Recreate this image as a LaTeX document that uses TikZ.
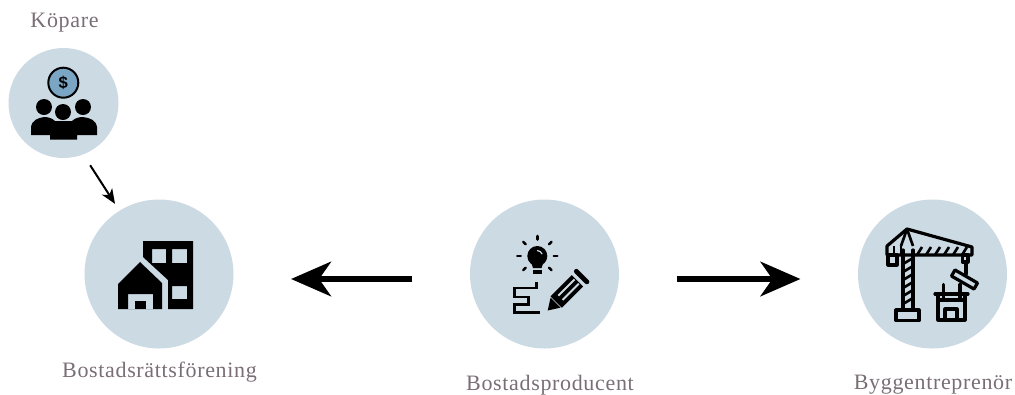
\documentclass[tikz,border=0pt]{standalone}
\usepackage{fontspec}
\setmainfont[LetterSpace=3]{Liberation Serif}
\newfontfamily\dollarfont{Liberation Sans}
\usetikzlibrary{arrows.meta,positioning}
\definecolor{myblue}{RGB}{204, 218, 228} % pale disc
\definecolor{mycoin}{RGB}{122, 166, 196} % coin
\definecolor{mytext}{RGB}{122, 110, 118} % labels
\tikzset{
    disc/.style={circle, fill=myblue, inner sep=0pt, minimum size=149*0.75pt},
    label/.style={text=mytext, font=\fontsize{16.5}{18}\selectfont, inner sep=0pt},
    bigarrow/.style={line width=3.9pt, -{Stealth[length=30pt,width=26pt,inset=9pt]}, shorten >=43pt, shorten <=43pt},
    smallarrow/.style={line width=1.5pt, -{Stealth[length=11pt,width=9pt,inset=3pt]}},
    icon/.style={line width=2.4pt, line cap=round, line join=round},
    thinicon/.style={line width=2pt, line join=round}
}
\begin{document}
\begin{tikzpicture}[x=0.75pt, y=-0.75pt]
    \useasboundingbox (0,0) rectangle (1015,394);

    % Discs
    \node[disc, minimum size=110*0.75pt] (koepare) at (63.5,103) {};
    \node[disc] (forening) at (159,274) {};
    \node[disc] (producent) at (544.5,274) {};
    \node[disc] (bygg) at (932.5,274) {};

    % Labels
    \node[label] (koeparetext) at (64.5,22.5) {Köpare};
    \node[label] (foreningtext) at (159.5,372) {Bostadsrättsförening};
    \node[label] (producenttext) at (550,385) {Bostadsproducent};
    \node[label] (byggtext) at (933,385) {Byggentreprenör};

    % Arrows
    \draw[smallarrow, shorten <=9.5pt, shorten >=6pt] (koepare.-69) -- (forening.122);
    \draw[bigarrow] ([yshift=-3.75pt]producent.west) -- ([yshift=-3.75pt]forening.east);
    \draw[bigarrow] ([yshift=-3.75pt]producent.east) -- ([yshift=-3.75pt]bygg.west);

    % Buyers icon
    \filldraw[fill=mycoin, draw=black, line width=1.5pt] (63.3,82.7) circle (15);
    \node[font=\dollarfont\bfseries\fontsize{12.5}{12.5}\selectfont, inner sep=0pt] (dollar) at (63.3,82.7) {\$};
    \foreach \x/\y in {44/107, 83/107, 63/112}
    {
        \fill (\x,\y) circle (8);
    }
    \fill (31,135) -- (31,127) .. controls (32,120) and (38,118) .. (44,117)
        .. controls (48,117) and (52,118) .. (55,121) -- (72,121)
        .. controls (75,118) and (79,117) .. (83,117)
        .. controls (90,118) and (96,120) .. (97,127) -- (97,135) -- (77,135) -- (77,139.5) -- (50,139.5) -- (50,135) -- cycle;

    % Housing icon
    \fill[even odd rule] (143,241) -- (193,241) -- (193,309) -- (168,309) -- (168,280) -- (143,257) -- cycle
        (152,249) rectangle (166,263)
        (172,249) rectangle (187,263)
        (172,286) rectangle (187,299);
    \fill[even odd rule] (140,262) -- (162,283) -- (162,309) -- (118,309) -- (118,284) -- cycle
        (128,294) rectangle (153,309);
    \fill (135,301) rectangle (146,309);

    % Idea icon
    \fill (537.3,256) circle (10);
    \fill (531,262) -- (543.5,262) -- (541.5,268) -- (533,268) -- cycle;
    \fill (533,269.5) rectangle (541.5,273.5);
    \draw[myblue, line width=0.9pt] (537,250.5) arc (270:340:5.5);
    \foreach \a in {0,45,135,180,225,270,315}
    {
        \draw[icon, line width=1.9pt] (537.3,256) ++(\a:16.5) -- ++(\a:3.5);
    }
    \draw[icon, line width=2pt, line cap=butt, line join=miter] (536.7,282) -- (536.7,288) -- (514.3,288) -- (514.3,297) -- (528.3,297) -- (528.3,304.7) -- (514.3,304.7) -- (514.3,312.7) -- (540,312.7);
    \begin{scope}[shift={(547.7,310.5)}, rotate=45]
        % pencil, drawn along its own axis
        \fill (0,0) -- (11,-7) -- (11,7) -- cycle;
        \fill (12,-8) rectangle (42,8);
        \fill[myblue] (18,-4) rectangle (41,-2);
        \fill[myblue] (18,2) rectangle (41,4);
        \draw[line width=3.6pt, line cap=round] (48,-7.5) -- (48,7.5);
    \end{scope}

    % Crane icon
    \draw[icon] (887,246) -- (907,229) -- (972,247) -- (972,255) -- (887,255) -- cycle;
    \draw[thinicon] (907,229) -- (901,246) (907,229) -- (913,246);
    \draw[thinicon] (894,246) -- (894,255) (901,246) -- (901,255);
    \draw[icon] (888,255) rectangle (897,265);
    \draw[icon] (903,250) -- (903,309) (913,250) -- (913,309);
    \draw[icon] (896,310) rectangle (919,320.5);
    \foreach \y in {258,266,274,282,290,298}
    {
        \draw[thinicon] (903,\y+6) -- (913,\y);
    }
    \foreach \x in {917,926,935,944,953,962}
    {
        \draw[thinicon] (\x,255) -- (\x+5,247);
    }
    \draw[icon] (962.5,255) rectangle (968,262);
    \draw[icon] (966,262) -- (966,274);
    \draw[icon, rotate around={-30:(964.5,279.5)}] (951.5,276) rectangle (977.5,283);
    \draw[icon] (935,294) -- (968,294) (938,300) -- (965,300)
        (938,294) -- (938,320) -- (965,320) -- (965,294)
        (945,320) -- (945,309) -- (957,309) -- (957,320)
        (943.5,284.5) -- (943.5,300) (960,284.5) -- (960,300);
\end{tikzpicture}
\end{document}
